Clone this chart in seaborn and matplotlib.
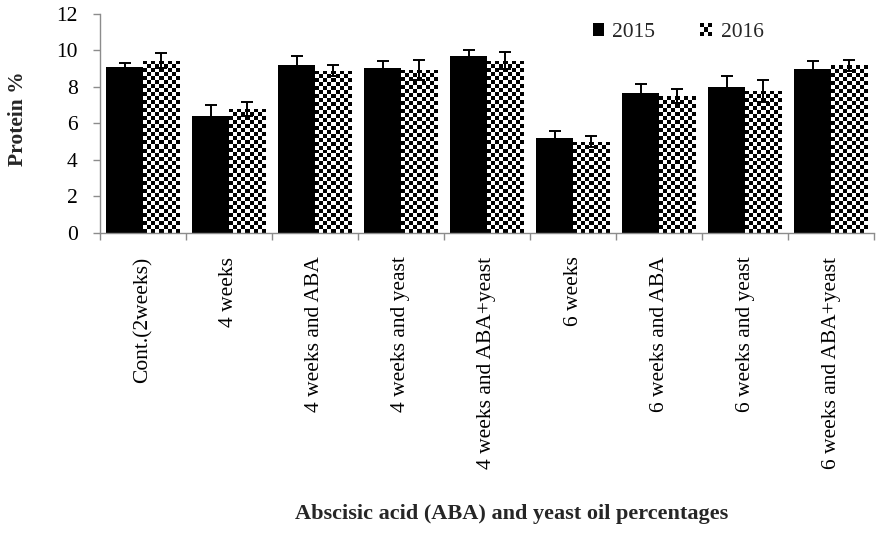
import numpy as np
import pandas as pd
import matplotlib
matplotlib.use("Agg")
import matplotlib.pyplot as plt
import seaborn as sns
from matplotlib.patches import Rectangle
from matplotlib.legend_handler import HandlerBase

# Treatments (x categories)
treatments = [
    "Cont.(2weeks)", "4 weeks", "4 weeks and ABA", "4 weeks and yeast",
    "4 weeks and ABA+yeast", "6 weeks", "6 weeks and ABA",
    "6 weeks and yeast", "6 weeks and ABA+yeast",
]
seasons = ["2015", "2016"]

# Protein % per season
protein_2015 = [9.1, 6.4, 9.2, 9.05, 9.7, 5.2, 7.65, 8.0, 9.0]
protein_2016 = [9.45, 6.8, 8.9, 8.95, 9.45, 5.0, 7.5, 7.8, 9.2]

# Standard errors
err_2015 = [0.2, 0.6, 0.5, 0.4, 0.3, 0.4, 0.5, 0.6, 0.4]
err_2016 = [0.4, 0.4, 0.3, 0.55, 0.45, 0.3, 0.4, 0.6, 0.3]

y_ticks = [0, 2, 4, 6, 8, 10, 12]

df = pd.DataFrame({
    "treatment": treatments * 2,
    "season": [seasons[0]] * len(treatments) + [seasons[1]] * len(treatments),
    "protein": protein_2015 + protein_2016,
    "err": err_2015 + err_2016,
})

sns.set_theme(style="white")
plt.rcParams["font.family"] = ["Liberation Serif", "DejaVu Serif"]
FS = 15.5

fig = plt.figure(figsize=(8.77, 5.36), dpi=100)
ax = fig.add_axes([0.114, 0.5653, 0.8826, 0.4086])

sns.barplot(
    data=df, x="treatment", y="protein", hue="season",
    order=treatments, hue_order=seasons,
    palette={"2015": "black", "2016": "white"},
    width=0.85, errorbar=None, saturation=1, linewidth=0,
    legend=False, ax=ax,
)

n = len(treatments)
ax.set_ylim(0, 12)
ax.set_xlim(-0.5, n - 0.5)
ax.set_yticks(y_ticks)

# Error bars at the bar tops
bars = ax.patches[: 2 * n]
for bar, err in zip(bars, df["err"]):
    xc = bar.get_x() + bar.get_width() / 2
    ax.errorbar(xc, bar.get_height(), yerr=err, color="black",
                elinewidth=1.4, capsize=4.3, capthick=1.4, zorder=5)

# Checkerboard fill for the second season
fig.canvas.draw()
cell_px = 4.0
for bar in bars[n:]:
    ext = bar.get_window_extent()
    nx = max(1, int(round(ext.width / cell_px)))
    ny = max(1, int(round(ext.height / cell_px)))
    board = (np.indices((ny, nx)).sum(axis=0) % 2).astype(float)
    x0, w, h = bar.get_x(), bar.get_width(), bar.get_height()
    im = ax.imshow(board, cmap="gray", vmin=0, vmax=1,
                   extent=(x0, x0 + w, 0, h), aspect="auto",
                   interpolation="nearest", zorder=2)
    im.set_clip_path(bar)
ax.set_ylim(0, 12)
ax.set_xlim(-0.5, n - 0.5)

# Axes styling
for side in ["top", "right"]:
    ax.spines[side].set_visible(False)
for side in ["left", "bottom"]:
    ax.spines[side].set_color("#8c8c8c")
    ax.spines[side].set_linewidth(1.0)

ax.tick_params(axis="y", which="major", left=True, length=5, width=1,
               color="#8c8c8c", labelsize=FS, pad=11, labelcolor="black")
ax.set_xticks(np.arange(-0.5, n, 1.0), minor=True)
ax.tick_params(axis="x", which="minor", bottom=True, length=5, width=1,
               color="#8c8c8c")
ax.tick_params(axis="x", which="major", bottom=False, length=0, pad=17,
               labelsize=FS, labelcolor="black")
ax.set_xticks(range(n))
ax.set_xticklabels(treatments, rotation=90, va="top", ha="center")

ax.set_xlabel("")
ax.set_ylabel("Protein %", fontsize=FS, fontweight="bold", va="center")
ax.yaxis.set_label_coords(-0.106, 0.52)
fig.text(0.583, 0.041, "Abscisic acid (ABA) and yeast oil percentages",
         ha="center", va="center", fontsize=FS + 0.5, fontweight="bold")


class CheckerHandler(HandlerBase):
    def create_artists(self, legend, orig_handle, xdescent, ydescent,
                       width, height, fontsize, trans):
        s = height / 3.0
        x0 = -xdescent + width - 3 * s
        y0 = -ydescent
        arts = []
        for i in range(3):
            for j in range(3):
                if (i + j) % 2 == 0 and not (i == 1 and j == 2):
                    arts.append(Rectangle((x0 + i * s, y0 + j * s), s, s,
                                          facecolor="black", edgecolor="none",
                                          transform=trans))
        return arts


h2015 = Rectangle((0, 0), 1, 1, facecolor="black", edgecolor="none")
h2016 = Rectangle((0, 0), 1, 1, facecolor="white", edgecolor="none")
leg = ax.legend([h2015, h2016], seasons, ncol=2, frameon=False,
                loc="center left", bbox_to_anchor=(0.637, 0.915),
                borderpad=0, borderaxespad=0,
                fontsize=FS, handlelength=0.5, handleheight=0.5,
                handletextpad=0.4, columnspacing=2.15,
                handler_map={h2016: CheckerHandler()})

fig.savefig("out.png", dpi=100)
